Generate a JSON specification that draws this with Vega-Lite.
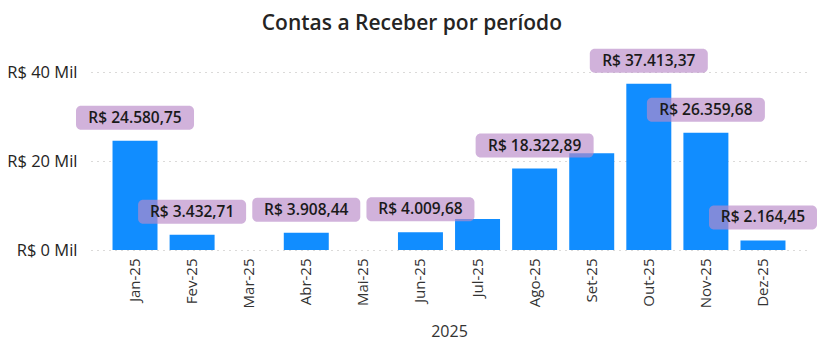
{
  "$schema": "https://vega.github.io/schema/vega-lite/v6.json",
  "width": 716,
  "height": 200,
  "autosize": {"type": "none"},
  "padding": {"left": 91, "top": 50, "right": 10, "bottom": 114},
  "title": {"text": "Contas a Receber por período", "anchor": "middle", "frame": "bounds", "fontSize": 21, "font": "Open Sans", "fontWeight": 600, "color": "#252423", "offset": 15},
  "config": {
    "view": {"stroke": null},
    "locale": {"number": {"decimal": ",", "thousands": ".", "grouping": [3], "currency": ["R$ ", ""]}}
  },
  "data": {"values": [
    {"month": "Jan-25", "value": 24580.75},
    {"month": "Fev-25", "value": 3432.71},
    {"month": "Mar-25", "value": 0},
    {"month": "Abr-25", "value": 3908.44},
    {"month": "Mai-25", "value": 0},
    {"month": "Jun-25", "value": 4009.68},
    {"month": "Jul-25", "value": 6980},
    {"month": "Ago-25", "value": 18322.89},
    {"month": "Set-25", "value": 21750},
    {"month": "Out-25", "value": 37413.37},
    {"month": "Nov-25", "value": 26359.68},
    {"month": "Dez-25", "value": 2164.45}
  ]},
  "encoding": {
    "x": {
      "field": "month", "type": "ordinal", "sort": null,
      "scale": {"paddingInner": 0.212, "paddingOuter": 0.377},
      "title": "2025",
      "axis": {"labelAngle": -90, "labelAlign": "right", "labelBaseline": "middle", "labelFont": "Open Sans", "labelFontSize": 15, "labelColor": "#333333", "labelPadding": 8, "domain": false, "ticks": false, "titleFont": "Open Sans", "titleFontSize": 16, "titleFontWeight": "normal", "titleColor": "#333333", "titlePadding": 16}
    }
  },
  "layer": [
    {
      "mark": {"type": "bar", "color": "#118DFF"},
      "encoding": {
        "y": {"field": "value", "type": "quantitative", "scale": {"domain": [0, 45000], "nice": false},
          "axis": {"values": [0, 20000, 40000], "labelExpr": "'R$ ' + (datum.value / 1000) + ' Mil'", "title": null, "domain": false, "ticks": false, "labelFont": "Open Sans", "labelFontSize": 16.5, "labelColor": "#252423", "labelPadding": 14, "gridDash": [1, 5], "gridColor": "#B8B6B4", "gridWidth": 1.2}}
      }
    },
    {
      "transform": [{"filter": "datum.value >= 10000 && datum.month != 'Set-25'"}],
      "mark": {"type": "bar", "width": 118, "color": "#B98AC8", "opacity": 0.66, "cornerRadius": 5, "yOffset": -11, "y2Offset": -35},
      "encoding": {"y": {"field": "value", "type": "quantitative"}, "y2": {"field": "value"}}
    },
    {
      "transform": [{"filter": "datum.value > 0 && datum.value < 10000 && datum.month != 'Jul-25'"}],
      "mark": {"type": "bar", "width": 108, "color": "#B98AC8", "opacity": 0.66, "cornerRadius": 5, "yOffset": -11, "y2Offset": -35},
      "encoding": {"y": {"field": "value", "type": "quantitative"}, "y2": {"field": "value"}}
    },
    {
      "transform": [{"filter": "datum.value > 0 && datum.month != 'Jul-25' && datum.month != 'Set-25'"}],
      "mark": {"type": "text", "dy": -23, "baseline": "middle", "align": "center", "font": "Open Sans", "fontSize": 15.5, "fontWeight": 600, "color": "#1a1a1a"},
      "encoding": {"y": {"field": "value", "type": "quantitative"}, "text": {"field": "value", "type": "quantitative", "format": "$,.2f"}}
    }
  ]
}
